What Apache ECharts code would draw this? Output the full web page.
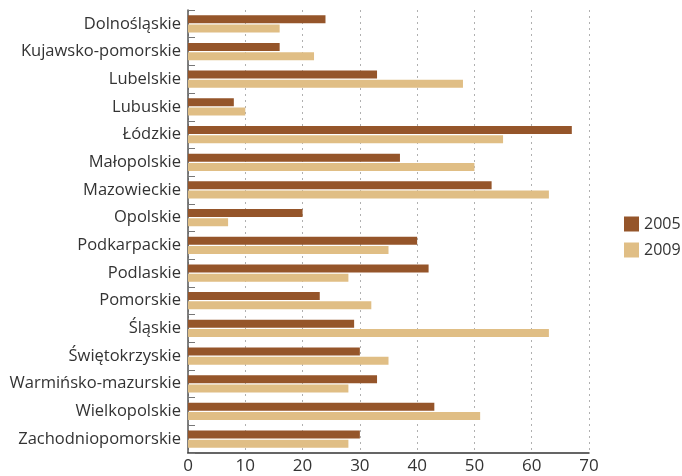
<!DOCTYPE html>
<html>
<head>
<meta charset="utf-8">
<script src="https://cdn.jsdelivr.net/npm/echarts@6/dist/echarts.min.js"></script>
<style>
  html, body { margin: 0; padding: 0; background: #fff; }
  #chart { width: 682px; height: 476px; }
</style>
</head>
<body>
<div id="chart"></div>
<script>
const regions = [
  'Dolnośląskie', 'Kujawsko-pomorskie', 'Lubelskie', 'Lubuskie', 'Łódzkie',
  'Małopolskie', 'Mazowieckie', 'Opolskie', 'Podkarpackie', 'Podlaskie',
  'Pomorskie', 'Śląskie', 'Świętokrzyskie', 'Warmińsko-mazurskie',
  'Wielkopolskie', 'Zachodniopomorskie'
]
const values2005 = [24, 16, 33, 8, 67, 37, 53, 20, 40, 42, 23, 29, 30, 33, 43, 30]
const values2009 = [16, 22, 48, 10, 55, 50, 63, 7, 35, 28, 32, 63, 35, 28, 51, 28]

const chart = echarts.init(document.getElementById('chart'))

chart.setOption({
  animation: false,
  textStyle: { fontFamily: 'Open Sans' },
  legend: {
    data: ['2005', '2009'],
    orient: 'vertical',
    left: 619,
    top: 211,
    itemWidth: 15,
    itemHeight: 15,
    itemGap: 10,
    icon: 'rect',
    textStyle: { fontSize: 16, color: '#333' }
  },
  grid: {
    left: 188,
    right: 93,
    top: 10,
    bottom: 23
  },
  xAxis: {
    type: 'value',
    min: 0,
    max: 70,
    interval: 10,
    axisLine: { show: true, lineStyle: { color: '#333', width: 1.5 } },
    axisTick: { show: false },
    axisLabel: { fontSize: 17, color: '#333', margin: 5 },
    splitLine: {
      show: true,
      lineStyle: { type: [2, 4], color: '#b0b0b0' }
    }
  },
  yAxis: {
    type: 'category',
    data: regions,
    inverse: true,
    axisLine: { show: true, lineStyle: { color: '#555', width: 1.5 } },
    axisTick: { show: true, inside: true, length: 7, lineStyle: { color: '#777' } },
    axisLabel: { fontSize: 16.5, color: '#333', margin: 7, padding: [0, 0, 4, 0] }
  },
  series: [
    {
      name: '2005',
      type: 'bar',
      data: values2005,
      barWidth: 8,
      barGap: '15%',
      itemStyle: { color: '#95552A' }
    },
    {
      name: '2009',
      type: 'bar',
      data: values2009,
      barWidth: 8,
      itemStyle: { color: '#E0BE85' }
    }
  ]
})
</script>
</body>
</html>
